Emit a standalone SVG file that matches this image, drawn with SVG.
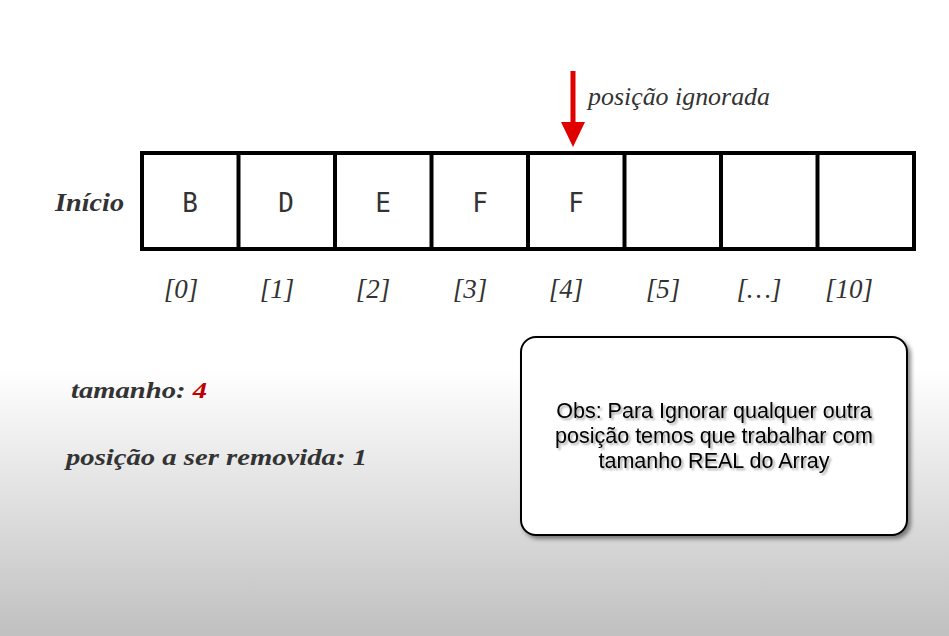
<svg xmlns="http://www.w3.org/2000/svg" width="949" height="636" viewBox="0 0 949 636">
<defs>
<linearGradient id="bg" x1="0" y1="0" x2="0" y2="1">
<stop offset="0" stop-color="#ffffff"/>
<stop offset="0.58" stop-color="#ffffff"/>
<stop offset="1" stop-color="#c0c0c0"/>
</linearGradient>
<filter id="sh" x="-10%" y="-10%" width="130%" height="130%">
<feDropShadow dx="3" dy="3" stdDeviation="2" flood-color="#000" flood-opacity="0.45"/>
</filter>
<filter id="tsh" x="-5%" y="-20%" width="110%" height="150%">
<feDropShadow dx="2" dy="2" stdDeviation="1" flood-color="#000" flood-opacity="0.35"/>
</filter>
</defs>
<style>
.cell{fill:#fff;stroke:#000;stroke-width:4}
.val{font-family:"DejaVu Sans Mono","Liberation Mono",monospace;font-size:26px;fill:#333;text-anchor:middle}
.idx{font-family:"Liberation Serif","DejaVu Serif",serif;font-style:italic;font-size:27px;fill:#333;text-anchor:middle}
.lbl{font-family:"Liberation Serif","DejaVu Serif",serif;font-style:italic;fill:#333}
.obs{font-family:"Liberation Sans",Arial,sans-serif;font-size:21.5px;fill:#000;text-anchor:middle}
</style>
<rect width="949" height="636" fill="url(#bg)"/>

<g id="inicio"><text class="lbl" x="55" y="211" font-size="25" font-weight="bold" textLength="69" lengthAdjust="spacingAndGlyphs">Início</text></g>

<g id="array">
<rect class="cell" x="142" y="153" width="772" height="96"/>
<line class="cell" x1="238.5" y1="153" x2="238.5" y2="249"/>
<line class="cell" x1="335" y1="153" x2="335" y2="249"/>
<line class="cell" x1="431.5" y1="153" x2="431.5" y2="249"/>
<line class="cell" x1="528" y1="153" x2="528" y2="249"/>
<line class="cell" x1="624.5" y1="153" x2="624.5" y2="249"/>
<line class="cell" x1="721" y1="153" x2="721" y2="249"/>
<line class="cell" x1="817.5" y1="153" x2="817.5" y2="249"/>
</g>
<g id="values">
<text class="val" x="190" y="212">B</text>
<text class="val" x="286" y="212">D</text>
<text class="val" x="383" y="212">E</text>
<text class="val" x="480" y="212">F</text>
<text class="val" x="576" y="212">F</text>
</g>
<g id="indices">
<text class="idx" x="181" y="298">[0]</text>
<text class="idx" x="277" y="298">[1]</text>
<text class="idx" x="373" y="298">[2]</text>
<text class="idx" x="470" y="298">[3]</text>
<text class="idx" x="566" y="298">[4]</text>
<text class="idx" x="663" y="298">[5]</text>
<text class="idx" x="759" y="298">[…]</text>
<text class="idx" x="849" y="298">[10]</text>
</g>

<g id="connectors">
<line x1="573" y1="71" x2="573" y2="124" stroke="#e00000" stroke-width="5"/>
<polygon points="561,122 585,122 573,147" fill="#e00000"/>
</g>
<g id="ignorada"><text class="lbl" x="588" y="105" font-size="25" textLength="182" lengthAdjust="spacingAndGlyphs">posição ignorada</text></g>

<g id="tamanho"><text class="lbl" x="71" y="398" font-size="23" font-weight="bold" textLength="136" lengthAdjust="spacingAndGlyphs">tamanho: <tspan fill="#c00000">4</tspan></text></g>
<g id="removida"><text class="lbl" x="66" y="465" font-size="23" font-weight="bold" textLength="301" lengthAdjust="spacingAndGlyphs">posição a ser removida: 1</text></g>

<g id="obs">
<rect x="521" y="337" width="386" height="198" rx="15" fill="#fff" stroke="#000" stroke-width="2" filter="url(#sh)"/>
<g filter="url(#tsh)">
<text class="obs" x="714" y="418">Obs: Para Ignorar qualquer outra</text>
<text class="obs" x="714" y="443">posição temos que trabalhar com</text>
<text class="obs" x="714" y="468">tamanho REAL do Array</text>
</g>
</g>
</svg>
